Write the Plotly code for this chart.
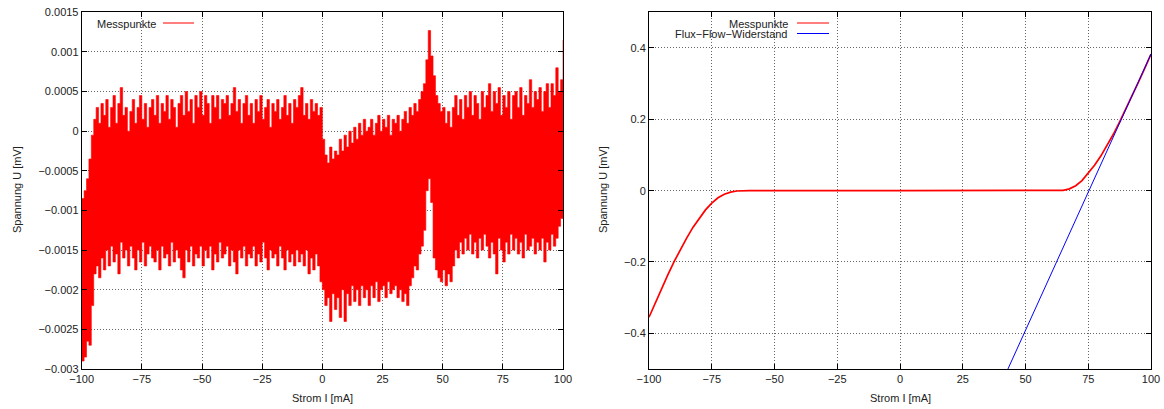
import plotly.graph_objects as go

# ---------------- data: left panel (noise band, envelope) ----------------
strom_left = list(range(-100, 101))  # mA, 1 mA steps

# upper envelope of the measured noise band, in µV (converted to mV below)
upper_uV = [
    -0.85, -0.75, -0.6, -0.35, -0.05, 0.15, 0.3, 0.1, 0.35, 0.2,
    0.4, 0.05, 0.3, 0.45, 0.1, 0.35, 0.55, 0.2, 0.3, 0.0,
    0.25, 0.4, 0.1, 0.3, 0.45, 0.15, 0.35, 0.05, 0.3, 0.4,
    0.2, 0.45, 0.1, 0.35, 0.25, 0.45, 0.15, 0.4, 0.3, 0.05,
    0.35, 0.45, 0.2, 0.5, 0.25, 0.4, 0.1, 0.45, 0.3, 0.5,
    0.2, 0.45, 0.35, 0.1, 0.45, 0.3, 0.45, 0.15, 0.4, 0.35,
    0.45, 0.2, 0.35, 0.55, 0.25, 0.4, 0.1, 0.35, 0.45, 0.2,
    0.35, 0.1, 0.4, 0.25, 0.45, 0.15, 0.3, 0.4, 0.05, 0.35,
    0.25, 0.4, 0.15, 0.3, 0.45, 0.2, 0.35, 0.1, 0.4, 0.3,
    0.45, 0.55, 0.2, 0.35, 0.15, 0.4, 0.25, 0.35, 0.2, 0.3,
    -0.1, -0.3, -0.4, -0.2, -0.35, -0.25, -0.3, -0.1, -0.25, -0.05,
    -0.2, 0.0, -0.15, 0.05, -0.1, 0.1, -0.05, 0.15, 0.0, 0.05,
    0.15, -0.05, 0.1, 0.2, 0.0, 0.15, 0.05, 0.2, -0.05, 0.15,
    0.1, 0.2, 0.0, 0.15, 0.25, 0.1, 0.3, 0.2, 0.35, 0.25,
    0.4, 0.5, 0.6, 0.9, 1.27, 0.95, 0.7, 0.45, 0.35, 0.25,
    0.3, 0.1, 0.25, 0.05, 0.3, 0.45, 0.2, 0.4, 0.15, 0.45,
    0.3, 0.5, 0.2, 0.45, 0.35, 0.15, 0.5, 0.3, 0.45, 0.6,
    0.25, 0.5, 0.35, 0.55, 0.2, 0.45, 0.3, 0.5, 0.15, 0.45,
    0.5, 0.3, 0.55, 0.2, 0.45, 0.35, 0.65, 0.3, 0.5, 0.4,
    0.55, 0.25, 0.5, 0.6, 0.3, 0.6, 0.45, 0.8, 0.5, 0.65, 1.15,
]

# lower envelope of the measured noise band, in µV
lower_uV = [
    -2.9, -2.85, -2.65, -2.7, -2.2, -1.8, -1.7, -1.85, -1.6, -1.75,
    -1.5, -1.7, -1.45, -1.65, -1.55, -1.8, -1.4, -1.6, -1.5, -1.7,
    -1.45, -1.6, -1.75, -1.5, -1.65, -1.4, -1.7, -1.55, -1.45, -1.6,
    -1.65, -1.5, -1.75, -1.45, -1.6, -1.55, -1.7, -1.4, -1.65, -1.5,
    -1.6, -1.75, -1.85, -1.5, -1.65, -1.45, -1.7, -1.55, -1.6, -1.45,
    -1.7, -1.5, -1.6, -1.45, -1.75, -1.55, -1.65, -1.4, -1.6, -1.55,
    -1.45, -1.7, -1.5, -1.65, -1.8, -1.5, -1.6, -1.45, -1.7, -1.55,
    -1.6, -1.45, -1.7, -1.55, -1.65, -1.4, -1.6, -1.75, -1.5, -1.6,
    -1.55, -1.7, -1.45, -1.6, -1.75, -1.5, -1.65, -1.55, -1.7, -1.5,
    -1.65, -1.55, -1.7, -1.5, -1.8, -1.6, -1.75, -1.55, -1.7, -1.9,
    -2.0, -2.2, -2.1, -2.4, -2.05, -2.25, -2.1, -2.35, -2.0, -2.4,
    -2.05, -2.2, -1.95, -2.15, -2.0, -2.2, -1.95, -2.1, -2.0, -2.2,
    -1.95, -2.1, -1.9, -2.15, -2.0, -1.95, -2.1, -1.9, -2.05, -2.0,
    -1.95, -2.1, -2.0, -2.15, -2.05, -2.2, -1.95, -1.85, -1.7, -1.75,
    -1.55, -1.45, -1.25, -0.75, -0.6, -0.9, -1.6, -1.75, -1.85, -1.9,
    -1.75, -1.95, -1.8, -1.9, -1.7, -1.5, -1.6, -1.4, -1.55, -1.35,
    -1.5, -1.3, -1.55, -1.4, -1.6, -1.35, -1.5, -1.3, -1.45, -1.6,
    -1.4, -1.55, -1.8, -1.35, -1.5, -1.65, -1.4, -1.55, -1.3, -1.5,
    -1.35, -1.55, -1.4, -1.6, -1.3, -1.5, -1.45, -1.35, -1.55, -1.4,
    -1.5, -1.35, -1.65, -1.4, -1.5, -1.3, -1.45, -1.35, -1.2, -1.1, -1.05,
]

upper_mV = [v / 1000.0 for v in upper_uV]
lower_mV = [v / 1000.0 for v in lower_uV]

# ---------------- data: right panel ----------------
strom_right = [-100, -97.5, -95, -92.5, -90, -87.5, -85, -82.5, -80, -77.5, -75, -72.5,
               -70, -67.5, -65, -62.5, -60, 0, 60, 62.5, 65, 67.5, 70, 72.5, 75, 77.5,
               80, 82.5, 85, 87.5, 90, 92.5, 95, 97.5, 100]
spannung_right = [-0.355, -0.314, -0.274, -0.236, -0.199, -0.165, -0.133, -0.103, -0.077,
                  -0.054, -0.035, -0.02, -0.01, -0.004, -0.001, 0.0, 0.0, 0.0, 0.0,
                  0.0, 0.001, 0.005, 0.014, 0.028, 0.048, 0.071, 0.097, 0.126, 0.158,
                  0.193, 0.229, 0.266, 0.304, 0.343, 0.383]

flux_x = [43.0, 100.0]
flux_y = [-0.50, 0.383]

x_ticks = [-100, -75, -50, -25, 0, 25, 50, 75, 100]
x_ticktext = ["\u2212100", "\u221275", "\u221250", "\u221225", "0", "25", "50", "75", "100"]
yl_ticks = [0.0015, 0.001, 0.0005, 0, -0.0005, -0.001, -0.0015, -0.002, -0.0025, -0.003]
yl_ticktext = ["0.0015", "0.001", "0.0005", "0", "\u22120.0005", "\u22120.001",
               "\u22120.0015", "\u22120.002", "\u22120.0025", "\u22120.003"]
yr_ticks = [0.4, 0.2, 0, -0.2, -0.4]
yr_ticktext = ["0.4", "0.2", "0", "\u22120.2", "\u22120.4"]

# ---------------- figure ----------------
W, H = 1164, 409
FONT = "Liberation Sans, Arial, Helvetica, sans-serif"
TXT = "#222222"


def px(x):
    return x / W


def py(y):
    return 1 - y / H


fig = go.Figure()

fig.add_trace(go.Scatter(x=strom_left, y=lower_mV, mode="lines",
                         line=dict(color="#ff0000", width=0.6, shape="hv"),
                         xaxis="x", yaxis="y", hoverinfo="skip"))
fig.add_trace(go.Scatter(x=strom_left, y=upper_mV, mode="lines", fill="tonexty",
                         fillcolor="#ff0000", line=dict(color="#ff0000", width=0.6, shape="hv"),
                         xaxis="x", yaxis="y", name="Messpunkte"))

fig.add_trace(go.Scatter(x=strom_right, y=spannung_right, mode="lines",
                         line=dict(color="#ff0000", width=1.7),
                         xaxis="x2", yaxis="y2", name="Messpunkte"))
fig.add_trace(go.Scatter(x=flux_x, y=flux_y, mode="lines",
                         line=dict(color="#0000ff", width=1.0),
                         xaxis="x2", yaxis="y2", name="Flux\u2212Flow\u2212Widerstand"))

axis_common = dict(
    showline=True, linecolor="black", linewidth=1, mirror="ticks",
    ticks="inside", ticklen=5, tickcolor="black", tickwidth=1,
    showgrid=True, gridcolor="#666666", griddash="1px,2px", gridwidth=1,
    zeroline=False, automargin=False,
    tickfont=dict(family=FONT, size=11, color=TXT),
)

fig.update_layout(
    width=W, height=H, margin=dict(l=0, r=0, t=0, b=0, pad=0, autoexpand=False),
    paper_bgcolor="white", plot_bgcolor="white", showlegend=False,
    font=dict(family=FONT, size=11, color=TXT),
    xaxis=dict(domain=[px(81.7), px(563)], range=[-100, 100], anchor="y",
               tickvals=x_ticks, ticktext=x_ticktext, **axis_common),
    yaxis=dict(domain=[py(369), py(12.3)], range=[-0.003, 0.0015], anchor="x",
               tickvals=yl_ticks, ticktext=yl_ticktext, **axis_common),
    xaxis2=dict(domain=[px(649), px(1151)], range=[-100, 100], anchor="y2",
                tickvals=x_ticks, ticktext=x_ticktext, **axis_common),
    yaxis2=dict(domain=[py(369), py(12.3)], range=[-0.5, 0.5], anchor="x2",
                tickvals=yr_ticks, ticktext=yr_ticktext, **axis_common),
)

ann = []
ann.append(dict(text="Strom I [mA]", x=px(322), y=py(397.5), xref="paper", yref="paper",
                showarrow=False, xanchor="center", yanchor="middle"))
ann.append(dict(text="Strom I [mA]", x=px(900), y=py(397.5), xref="paper", yref="paper",
                showarrow=False, xanchor="center", yanchor="middle"))
ann.append(dict(text="Spannung U [mV]", x=px(17), y=py(190), xref="paper", yref="paper",
                showarrow=False, xanchor="center", yanchor="middle", textangle=-90))
ann.append(dict(text="Spannung U [mV]", x=px(603), y=py(190), xref="paper", yref="paper",
                showarrow=False, xanchor="center", yanchor="middle", textangle=-90))
# legends (gnuplot style: text then sample line)
ann.append(dict(text="Messpunkte", x=px(95), y=py(23.5), xref="paper", yref="paper",
                showarrow=False, xanchor="left", yanchor="middle"))
ann.append(dict(text="Messpunkte", x=px(790), y=py(23.5), xref="paper", yref="paper",
                showarrow=False, xanchor="right", yanchor="middle"))
ann.append(dict(text="Flux\u2212Flow\u2212Widerstand", x=px(790), y=py(34), xref="paper",
                yref="paper", showarrow=False, xanchor="right", yanchor="middle"))
for a in ann:
    a["font"] = dict(family=FONT, size=11, color=TXT)
fig.update_layout(annotations=ann)

shapes = [
    dict(type="line", xref="paper", yref="paper", x0=px(163), x1=px(194),
         y0=py(23), y1=py(23), line=dict(color="#ff0000", width=1)),
    dict(type="line", xref="paper", yref="paper", x0=px(797), x1=px(829),
         y0=py(23), y1=py(23), line=dict(color="#ff0000", width=1)),
    dict(type="line", xref="paper", yref="paper", x0=px(797), x1=px(829),
         y0=py(33.5), y1=py(33.5), line=dict(color="#0000ff", width=1)),
]
fig.update_layout(shapes=shapes)

fig.write_html("out.html")
